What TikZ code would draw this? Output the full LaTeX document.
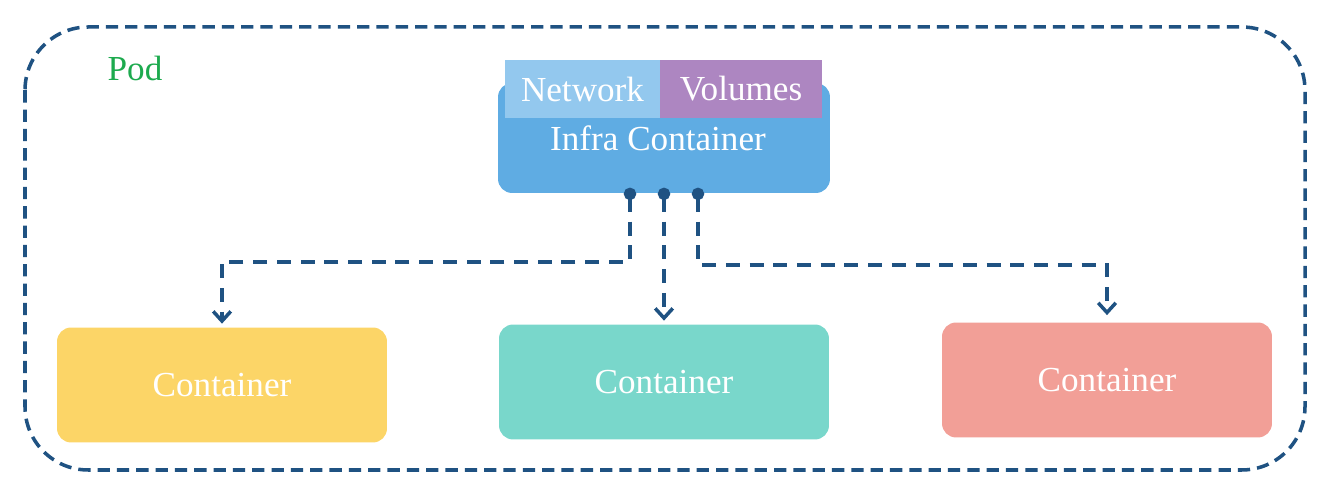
\documentclass[tikz,border=0pt]{standalone}
\usepackage{fontspec}
\setmainfont{Liberation Serif}
\usetikzlibrary{arrows.meta}

\definecolor{podline}{HTML}{1F5282}
\definecolor{podgreen}{HTML}{1DAA4E}
\definecolor{infrablue}{HTML}{5FACE3}
\definecolor{netblue}{HTML}{93C8EE}
\definecolor{volpurple}{HTML}{AD86C1}
\definecolor{ctryellow}{HTML}{FCD567}
\definecolor{ctrteal}{HTML}{79D7CB}
\definecolor{ctrred}{HTML}{F29F97}

\begin{document}
\begin{tikzpicture}[
  x=0.02cm, y=-0.02cm,
  ctr/.style={rounded corners=8pt, minimum width=6.6cm, minimum height=2.3cm,
              text=white, font=\fontsize{20}{24}\selectfont},
  tag/.style={minimum height=1.16cm, inner sep=0pt, text=white,
              font=\fontsize{20}{24}\selectfont},
  link/.style={podline, line width=2.4pt, dash pattern=on 8pt off 5.5pt,
               {Circle[length=7pt,sep=-3pt]}-{Straight Barb[length=5.5pt,width=10pt,line width=2pt]}}
]
\useasboundingbox (0,0) rectangle (1330,502);

% pod frame
\draw[podline, line width=2pt, dash pattern=on 7pt off 4pt, rounded corners=36pt]
  (25,27) rectangle (1305,470);
\node[text=podgreen, font=\fontsize{20}{24}\selectfont] (pod) at (135,68) {Pod};

% infra container
\node[ctr, fill=infrablue, minimum width=6.64cm, minimum height=2.2cm] (infra) at (664,138) {};
\node[text=white, font=\fontsize{20}{24}\selectfont] (infratext) at (658,138) {Infra Container};
\node[tag, fill=netblue, minimum width=3.1cm] (net) at (582.5,89) {Network};
\node[tag, fill=volpurple, minimum width=3.24cm] (vol) at (741,89) {Volumes};

% app containers
\node[ctr, fill=ctryellow] (c1) at (222,385) {Container};
\node[ctr, fill=ctrteal]   (c2) at (664,382) {Container};
\node[ctr, fill=ctrred]    (c3) at (1107,380) {Container};

\coordinate (p1) at (630,193);
\coordinate (p2) at (664,193);
\coordinate (p3) at (698,193);

\draw[link, shorten >=2pt] (p1) -- ++(0,69) -| (c1.north);
\draw[link, shorten >=2pt] (p2) -- (c2.north);
\draw[link, shorten >=4pt] (p3) -- ++(0,72) -| (c3.north);
\end{tikzpicture}
\end{document}
